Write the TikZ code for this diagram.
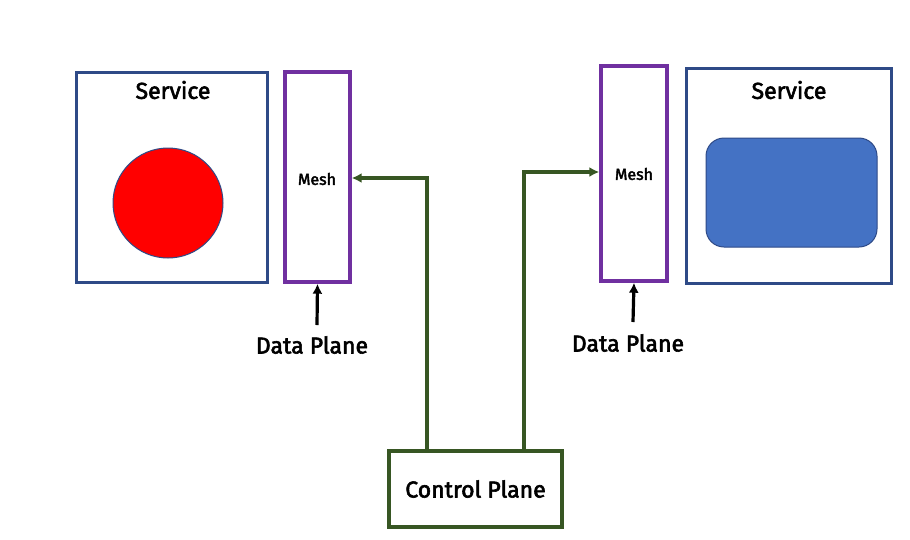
\documentclass[tikz,border=0pt]{standalone}
\usepackage{fontspec}
\usetikzlibrary{arrows.meta}
\setmainfont{Fira Sans}
\newfontfamily\medfont{Fira Sans}[FakeBold=2.5]
\definecolor{svcblue}{HTML}{2E4A87}
\definecolor{meshpurple}{HTML}{7030A0}
\definecolor{cpgreen}{HTML}{375623}
\definecolor{fillblue}{HTML}{4472C4}
\begin{document}
\begin{tikzpicture}[x=1pt,y=-1pt,
  svc/.style={draw=svcblue,line width=3pt},
  meshbox/.style={draw=meshpurple,line width=3.4pt},
  lbl/.style={font=\medfont\fontsize{23}{25}\selectfont,text=black},
  meshlbl/.style={font=\medfont\fontsize{16}{18}\selectfont,text=black},
  dparrow/.style={-{Latex[length=10pt,width=10pt]},line width=3.2pt,black},
  cparrow/.style={-{Latex[length=10pt,width=10pt]},line width=3.4pt,cpgreen}]
\useasboundingbox (0,0) rectangle (910,539);
\fill[white] (0,0) rectangle (910,539);
% left service
\draw[svc] (76,72) rectangle (267,282);
\node[lbl] (svcL) at (173,90) {Service};
\draw[svcblue,fill=red,line width=1pt] (168,203) circle (55);
% left mesh
\node[meshbox,minimum width=65pt,minimum height=210pt,inner sep=0pt] (meshL) at (317.5,177) {};
\node[meshlbl] (meshLt) at (317,179) {Mesh};
\node[lbl] (dpL) at (312,345) {Data Plane};
\coordinate (dpLs) at (317,325);
\draw[dparrow] (dpLs) -- (meshL.south);
% right mesh
\node[meshbox,minimum width=66pt,minimum height=215pt,inner sep=0pt] (meshR) at (634,173.5) {};
\node[meshlbl] (meshRt) at (634,174) {Mesh};
\node[lbl] (dpR) at (628,343) {Data Plane};
\coordinate (dpRs) at (633,322);
\draw[dparrow] (dpRs) -- (meshR.south);
% right service
\draw[svc] (686,68) rectangle (891,283);
\node[lbl] (svcR) at (789,90) {Service};
\draw[svcblue,fill=fillblue,line width=1pt,rounded corners=18pt] (706,138) rectangle (877,247);
% control plane
\node[draw=cpgreen,line width=3.4pt,minimum width=173pt,minimum height=76pt,inner sep=0pt,font=\medfont\fontsize{23}{25}\selectfont] (cp) at (475.5,489) {Control Plane};
\coordinate (cpL) at (427,451);
\coordinate (cpR) at (524,451);
\draw[cparrow] (cpL) -- (427,178) -- (meshL.east |- 0,178);
\draw[cparrow] (cpR) -- (524,172) -- (meshR.west |- 0,172);
\end{tikzpicture}
\end{document}
